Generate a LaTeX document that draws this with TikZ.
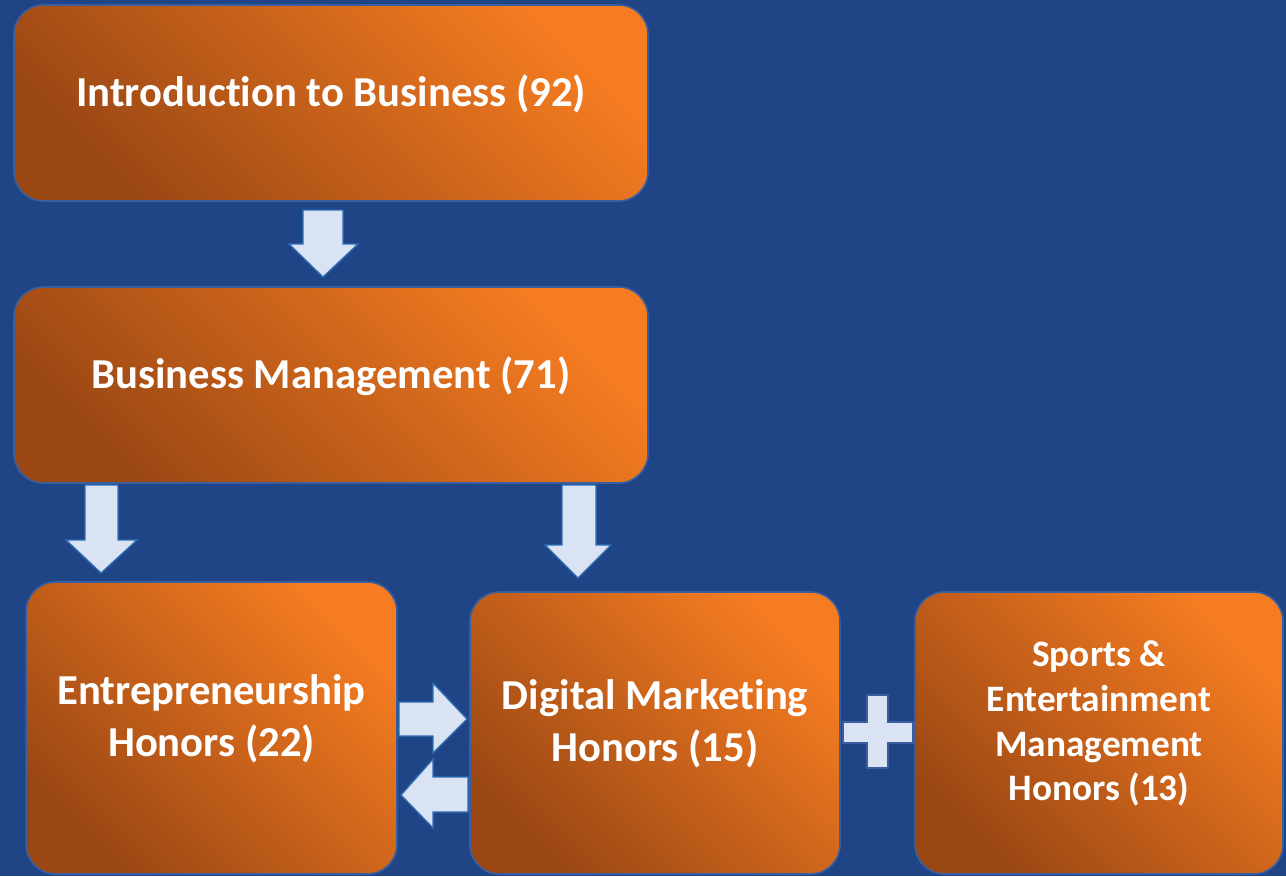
\documentclass[tikz,border=0pt]{standalone}
\usepackage{fontspec}
\setmainfont[Ligatures=NoCommon]{Carlito}

\definecolor{bgblue}{HTML}{1F4587}
\definecolor{boxdark}{HTML}{9A4714}
\definecolor{boxlight}{HTML}{F57C21}
\definecolor{boxline}{HTML}{3A5FA0}
\definecolor{arrfill}{HTML}{DAE3F3}
\definecolor{arrline}{HTML}{2C6DB4}

\tikzset{
  course/.style={rounded corners=22pt, draw=boxline, line width=1.2pt,
    top color=boxlight, bottom color=boxdark, shading angle=-45,
    text=white, align=center, inner sep=0pt, text depth=18pt,
    font=\bfseries\fontsize{32}{39}\selectfont},
  small/.style={font=\bfseries\fontsize{28}{33.5}\selectfont},
  blockarrow/.style={fill=arrfill, draw=arrline, line width=1pt, line join=miter},
}

\begin{document}
\begin{tikzpicture}[x=0.75pt,y=-0.75pt]
    \fill[bgblue] (0,0) rectangle (1286,876);
    \useasboundingbox (0,0) rectangle (1286,876);
    % course boxes
    \node[course, minimum width=475.5pt, minimum height=147pt] (intro) at (331,103) {Introduction to Business (92)};
    \node[course, minimum width=475.5pt, minimum height=147pt] (mgmt) at (331,385) {Business Management (71)};
    \node[course, minimum width=278pt, minimum height=219pt] (entre) at (211.5,728) {Entrepreneurship\\Honors (22)};
    \node[course, minimum width=277.5pt, minimum height=211.5pt] (digital) at (655,733) {Digital Marketing\\Honors (15)};
    \node[course, small, minimum width=276pt, minimum height=211.5pt] (sports) at (1099,733) {Sports \&\\Entertainment\\Management\\Honors (13)};
    % block arrows
    \draw[blockarrow] (303,210) -- (343,210) -- (343,244) -- (358,244) -- (323,277) -- (289,244) -- (303,244) -- cycle;
    \draw[blockarrow] (85,485) -- (118,485) -- (118,540) -- (137,540) -- (101,573) -- (66,540) -- (85,540) -- cycle;
    \draw[blockarrow] (562,485) -- (596,485) -- (596,545) -- (611,545) -- (578,578) -- (545,545) -- (562,545) -- cycle;
    \draw[blockarrow] (399,702) -- (433,702) -- (433,683) -- (467,719) -- (433,753) -- (433,736) -- (399,736) -- cycle;
    \draw[blockarrow] (468,777) -- (433,777) -- (433,759) -- (401,795) -- (433,828) -- (433,812) -- (468,812) -- cycle;
    % plus sign
    \draw[blockarrow, draw=boxline] (867,695) -- (888,695) -- (888,722) -- (913,722) -- (913,743) -- (888,743) -- (888,768) -- (867,768) -- (867,743) -- (843,743) -- (843,722) -- (867,722) -- cycle;
\end{tikzpicture}
\end{document}
